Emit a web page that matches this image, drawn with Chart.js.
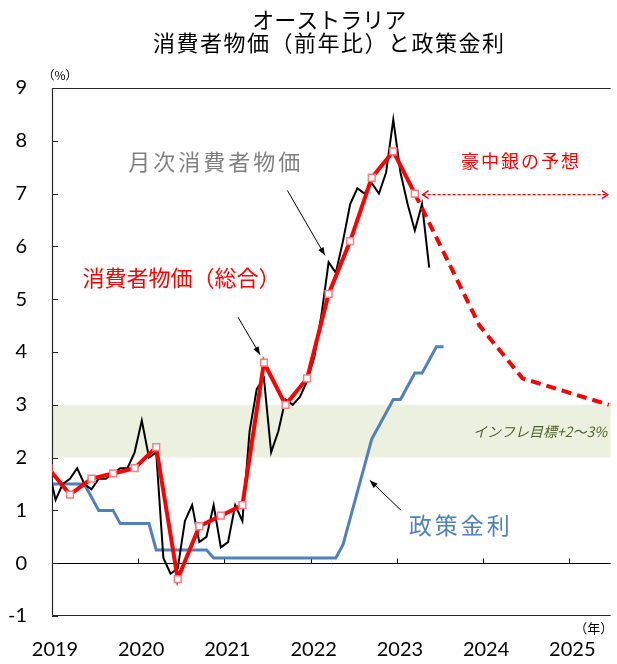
<!DOCTYPE html>
<html><head><meta charset="utf-8">
<script src="https://cdn.jsdelivr.net/npm/chart.js@4/dist/chart.umd.min.js"></script>
<style>html,body{margin:0;padding:0;background:#fff}canvas{display:block}</style>
</head><body>
<canvas id="c" width="617" height="664"></canvas>
<script>
// ---- data ----
const monthLabels = ['2018-12',
 '2019-01','2019-02','2019-03','2019-04','2019-05','2019-06','2019-07','2019-08','2019-09','2019-10','2019-11','2019-12',
 '2020-01','2020-02','2020-03','2020-04','2020-05','2020-06','2020-07','2020-08','2020-09','2020-10','2020-11','2020-12',
 '2021-01','2021-02','2021-03','2021-04','2021-05','2021-06','2021-07','2021-08','2021-09','2021-10','2021-11','2021-12',
 '2022-01','2022-02','2022-03','2022-04','2022-05','2022-06','2022-07','2022-08','2022-09','2022-10','2022-11','2022-12',
 '2023-01','2023-02','2023-03','2023-04','2023-05','2023-06','2023-07'];
const monthlyCPI = [1.8,
 1.2,1.5,1.6,1.8,1.5,1.4,1.6,1.6,1.7,1.8,1.8,2.1,
 2.7,2.0,2.1,0.1,-0.2,-0.1,0.8,1.1,0.4,0.5,1.1,0.3,
 0.4,1.1,0.8,2.5,3.3,3.5,2.1,2.5,3.1,3.0,3.15,3.45,
 3.9,4.7,5.7,5.5,6.1,6.8,7.1,7.0,7.2,7.0,7.4,8.4,
 7.4,6.8,6.3,6.8,5.6];
const policyRate = [1.5,
 1.5,1.5,1.5,1.5,1.5,1.25,1.0,1.0,1.0,0.75,0.75,0.75,
 0.75,0.75,0.25,0.25,0.25,0.25,0.25,0.25,0.25,0.25,0.1,0.1,
 0.1,0.1,0.1,0.1,0.1,0.1,0.1,0.1,0.1,0.1,0.1,0.1,
 0.1,0.1,0.1,0.1,0.35,0.85,1.35,1.85,2.35,2.6,2.85,3.1,
 3.1,3.35,3.6,3.6,3.85,4.1,4.1];
const quarterLabels = ['2018-12','2019-03','2019-06','2019-09','2019-12','2020-03','2020-06','2020-09','2020-12',
 '2021-03','2021-06','2021-09','2021-12','2022-03','2022-06','2022-09','2022-12','2023-03'];
const quarterlyCPI = [1.8,1.3,1.6,1.7,1.8,2.2,-0.3,0.7,0.9,1.1,3.8,3.0,3.5,5.1,6.1,7.3,7.8,7.0];
const forecastLabels = ['2023-03','2023-12','2024-06','2024-12','2025-06'];
const forecastCPI = [7.0,4.5,3.5,3.25,3.0];
const targetBand = [2,3];
const yearTicks = [2019,2020,2021,2022,2023,2024,2025];
const yTicks = [-1,0,1,2,3,4,5,6,7,8,9];

// month label -> decimal year (mid-month)
const toX = s => { const [y,m] = s.split('-').map(Number); return y + (m - 0.5) / 12; };
const pts = (labels, vals) => labels.slice(0, vals.length).map((l,i) => ({x: toX(l), y: vals[i]}));

const JP = "'Noto Sans CJK JP', sans-serif";
const NUM = "Lato, 'Noto Sans CJK JP', sans-serif";

function line(ctx, x1, y1, x2, y2){ ctx.beginPath(); ctx.moveTo(x1,y1); ctx.lineTo(x2,y2); ctx.stroke(); }
function arrowHead(ctx, x1, y1, x2, y2, len, half, filled){
  const ang = Math.atan2(y2-y1, x2-x1);
  const bx = x2 - len*Math.cos(ang), by = y2 - len*Math.sin(ang);
  const px = -Math.sin(ang)*half, py = Math.cos(ang)*half;
  ctx.beginPath();
  ctx.moveTo(bx+px, by+py); ctx.lineTo(x2,y2); ctx.lineTo(bx-px, by-py);
  if (filled){ ctx.closePath(); ctx.fill(); } else { ctx.stroke(); }
}

const deco = {
  id: 'deco',
  beforeDatasetsDraw(chart){
    const {ctx, chartArea: a, scales: {x, y}} = chart;
    ctx.save();
    const yt = y.getPixelForValue(targetBand[1]), yb = y.getPixelForValue(targetBand[0]);
    ctx.fillStyle = '#ebf1de';
    ctx.fillRect(a.left+1, yt, a.right-a.left-1, yb-yt);
    const y0 = Math.round(y.getPixelForValue(0)) + 0.5;
    ctx.strokeStyle = '#000'; ctx.lineWidth = 1;
    line(ctx, a.left, y0, a.right, y0);
    yearTicks.forEach(v => { const px = Math.round(x.getPixelForValue(v)) + 0.5; if (v > yearTicks[0]) line(ctx, px, y0-5, px, y0); });
    ctx.strokeStyle = '#262626';
    yTicks.forEach(v => { const py = Math.round(y.getPixelForValue(v)) + 0.5; line(ctx, a.left, py, a.left+6, py); });
    // frame
    const L = Math.round(a.left)+0.5, T = Math.round(a.top)+0.5, B = Math.round(a.bottom)-0.5;
    ctx.lineWidth = 1.2;
    line(ctx, L, T, a.right, T);
    line(ctx, L, T, L, B);
    line(ctx, L, B, a.right, B);
    ctx.restore();
  },
  afterDatasetsDraw(chart){
    const {ctx, chartArea: a, scales: {x, y}} = chart;
    const P = (xv, yv) => [x.getPixelForValue(xv), y.getPixelForValue(yv)];
    ctx.save();
    ctx.textAlign = 'center'; ctx.textBaseline = 'middle';
    // text labels
    const txt = (s, xv, yv, font, color, sp, align) => {
      const [px, py] = P(xv, yv);
      ctx.font = font; ctx.fillStyle = color; ctx.letterSpacing = sp || '0px';
      ctx.textAlign = align || 'center';
      ctx.fillText(s, px, py);
    };
    txt('月次消費者物価', 2020.90, 7.60, '22px ' + JP, '#808080', '3px');
    txt('消費者物価（総合）', 2020.503, 5.41, '22px ' + JP, '#ff0000', '0px');
    txt('豪中銀の予想', 2024.44, 7.61, '18px ' + JP, '#ff0000', '2px');
    txt('政策金利', 2023.74, 0.72, '23px ' + JP, '#4f81bd', '3px');
    txt('インフレ目標+2～3%', 2025.44, 2.50, 'italic 14px ' + JP, '#4f6228', '0px', 'right');
    ctx.letterSpacing = '0px';
    // arrows
    ctx.strokeStyle = '#000'; ctx.fillStyle = '#000'; ctx.lineWidth = 1;
    const arrows = [[2021.73,7.06,2022.166,5.83],[2021.157,4.66,2021.413,3.95],[2023.05,1.0,2022.686,1.57]];
    arrows.forEach(([x1,y1,x2,y2]) => {
      const [a1,b1] = P(x1,y1), [a2,b2] = P(x2,y2);
      line(ctx, a1, b1, a2, b2);
      arrowHead(ctx, a1, b1, a2, b2, 8, 3, true);
    });
    // dotted double arrow for forecast range
    const [d1, dy] = P(2023.298, 6.98), [d2] = P(2025.447, 6.98);
    ctx.strokeStyle = '#ff0000'; ctx.lineWidth = 1.3; ctx.setLineDash([3,2]);
    line(ctx, d1, dy, d2, dy);
    ctx.setLineDash([]);
    arrowHead(ctx, d2, dy, d1, dy, 6, 4, false);
    arrowHead(ctx, d1, dy, d2, dy, 6, 4, false);
    ctx.restore();
  },
  afterDraw(chart){
    const {ctx, chartArea: a} = chart;
    ctx.save();
    ctx.fillStyle = '#000'; ctx.textAlign = 'center'; ctx.textBaseline = 'middle';
    const cx = (a.left + a.right)/2 - 2;
    ctx.font = '22px ' + JP;
    ctx.fillText('オーストラリア', cx, 20);
    ctx.letterSpacing = '1.5px';
    ctx.fillText('消費者物価（前年比）と政策金利', cx, 43);
    ctx.letterSpacing = '0px';
    ctx.font = '12px ' + JP;
    ctx.fillText('（%）', a.left + 8, a.top - 13);
    ctx.font = '13px ' + JP;
    ctx.fillText('（年）', a.right - 17, a.bottom + 12);
    ctx.restore();
  }
};

new Chart(document.getElementById('c'), {
  type: 'line',
  data: {
    datasets: [
      { label: '政策金利', data: pts(monthLabels, policyRate), borderColor: '#4f81bd', borderWidth: 3,
        pointRadius: 0, tension: 0, clip: 0, order: 3 },
      { label: '月次消費者物価', data: pts(monthLabels, monthlyCPI), borderColor: '#000', borderWidth: 2,
        pointRadius: 0, tension: 0, clip: 0, order: 2 },
      { label: '豪中銀の予想', data: pts(forecastLabels, forecastCPI), borderColor: '#ff0000', borderWidth: 4,
        borderDash: [10,6], pointRadius: 0, tension: 0, clip: 0, order: 1 },
      { label: '消費者物価（総合）', data: pts(quarterLabels, quarterlyCPI), borderColor: '#ff0000', borderWidth: 4,
        pointStyle: 'rect', pointRadius: 4.8, pointBackgroundColor: '#fff', pointBorderColor: '#ff7c80',
        pointBorderWidth: 1.5, tension: 0, clip: 0, order: 0 }
    ]
  },
  options: {
    responsive: false, animation: false,
    layout: { padding: { top: 88, left: 0, right: 0, bottom: 0 } },
    plugins: { legend: { display: false }, tooltip: { enabled: false }, title: { display: false } },
    scales: {
      x: {
        type: 'linear', min: 2019, max: 2025.48,
        afterBuildTicks: s => { s.ticks = yearTicks.map(v => ({value: v})); },
        afterFit: s => { s.height = 48; },
        grid: { display: false, drawTicks: false }, border: { display: false },
        ticks: { font: { size: 20, family: NUM }, color: '#000', padding: 22, labelOffset: 3,
                 maxRotation: 0, autoSkip: false, callback: v => String(v) }
      },
      y: {
        min: -1, max: 9,
        afterBuildTicks: s => { s.ticks = yTicks.map(v => ({value: v})); },
        afterFit: s => { s.width = 52; },
        grid: { display: false, drawTicks: false }, border: { display: false },
        ticks: { font: { size: 20, family: NUM }, color: '#000', padding: 25, callback: v => String(v) }
      }
    }
  },
  plugins: [deco]
});
</script>
</body></html>
